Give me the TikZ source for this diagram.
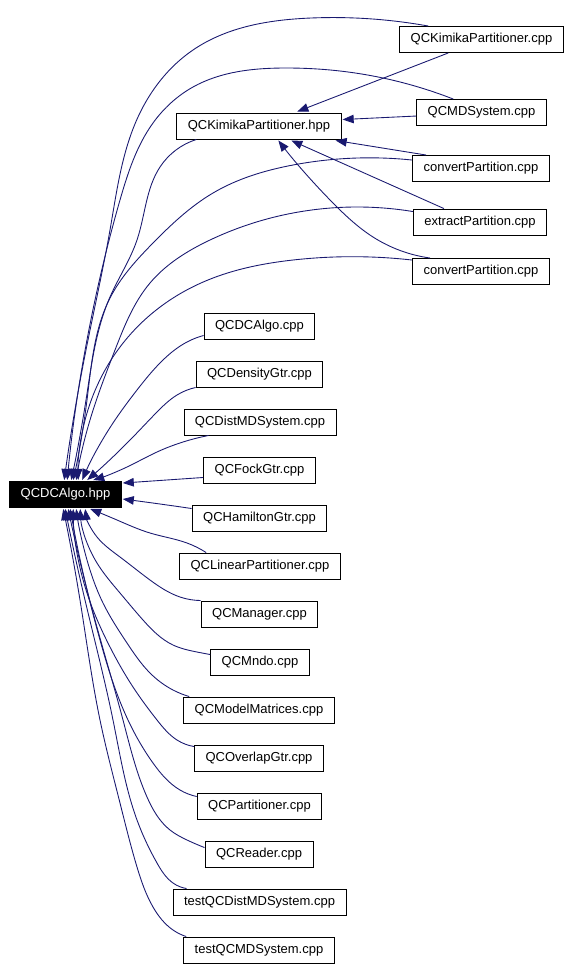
\documentclass[tikz,border=0pt]{standalone}
\usepackage{fontspec}
\setmainfont{Liberation Sans}
\usetikzlibrary{hobby,calc,arrows.meta}
\definecolor{depblue}{HTML}{191970}
\tikzset{
    file node/.style={
        draw=black,
        line width=0.55pt,
        fill=white,
        inner xsep=0.22cm,
        inner ysep=0pt,
        minimum height=0.52cm,
        font=\fontsize{7.4}{8}\selectfont
    },
    root node/.style={
        file node,
        fill=black,
        text=white
    },
    include edge/.style={
        depblue,
        line width=0.5pt,
        -{Triangle[length=0.22cm,width=0.17cm]}
    }
}

\begin{document}
\begin{tikzpicture}[x=0.02cm, y=-0.02cm, use Hobby shortcut]
                \useasboundingbox (0,0) rectangle (571,968);
                % files
                \node[root node] (algo) at (65.5,494.5) {QCDCAlgo.hpp};
                \node[file node] (kphpp) at (259,126) {QCKimikaPartitioner.hpp};
                \node[file node] (kpcpp) at (481.5,39.5) {QCKimikaPartitioner.cpp};
                \node[file node] (mdsys) at (481.5,112.5) {QCMDSystem.cpp};
                \node[file node] (convA) at (481,168.5) {convertPartition.cpp};
                \node[file node] (extract) at (480,222) {extractPartition.cpp};
                \node[file node] (convB) at (481,271.5) {convertPartition.cpp};
                \node[file node] (dccpp) at (259.5,326) {QCDCAlgo.cpp};
                \node[file node] (density) at (259.5,374) {QCDensityGtr.cpp};
                \node[file node] (distmd) at (260,422) {QCDistMDSystem.cpp};
                \node[file node] (fock) at (259.5,470) {QCFockGtr.cpp};
                \node[file node] (hamilton) at (259.5,518) {QCHamiltonGtr.cpp};
                \node[file node] (linear) at (260,566) {QCLinearPartitioner.cpp};
                \node[file node] (manager) at (259.5,614) {QCManager.cpp};
                \node[file node] (mndo) at (260,662) {QCMndo.cpp};
                \node[file node] (model) at (259,710) {QCModelMatrices.cpp};
                \node[file node] (overlap) at (259,758) {QCOverlapGtr.cpp};
                \node[file node] (partitioner) at (259.5,806) {QCPartitioner.cpp};
                \node[file node] (reader) at (259,854) {QCReader.cpp};
                \node[file node] (testdist) at (259.5,902) {testQCDistMDSystem.cpp};
                \node[file node] (testmd) at (259,950) {testQCMDSystem.cpp};
                % includes of QCKimikaPartitioner.hpp
                \draw[include edge] ($(kpcpp.south west)+(49,0)$) -- ($(kphpp.north west)+(121,-1)$);
                \draw[include edge] ($(mdsys.north west)+(0,17)$) -- ($(kphpp.north east)+(1,7)$);
                \draw[include edge] ($(convA.north west)+(14,0)$) -- ($(kphpp.south east)+(-6,1)$);
                \draw[include edge] ($(extract.north west)+(31,0)$) -- ($(kphpp.south west)+(115,1)$);
                \draw[include edge] ($(convB.north west)+(18,0)$) .. (373,237) .. (333,203) .. ($(kphpp.south west)+(102,1)$);
                % includes of QCDCAlgo.hpp, upper part
                \draw[include edge] ($(kpcpp.north west)+(29,0)$) .. (311,18) .. (193,50) .. (138,117) .. (110,230) .. (86,350) .. ($(algo.north west)+(55,-1)$);
                \draw[include edge] ($(mdsys.north west)+(37,0)$) .. (340,71) .. (286,68) .. (193,87) .. (153,123) .. (120,200) .. (95,300) .. ($(algo.north west)+(58,-1)$);
                \draw[include edge] ($(kphpp.south west)+(20,0)$) .. (160,167) .. (137,240) .. (110,297) .. (86,400) .. ($(algo.north west)+(62,-1)$);
                \draw[include edge] ($(convA.north west)+(0,5)$) .. (293,165) .. (213,193) .. (153,243) .. (110,298) .. (87,400) .. ($(algo.north west)+(64,-1)$);
                \draw[include edge] ($(extract.north west)+(0,3)$) .. (293,213) .. (210,240) .. (150,283) .. (115,350) .. (90,420) .. ($(algo.north west)+(67,-1)$);
                \draw[include edge] ($(convB.north west)+(0,2)$) .. (293,260) .. (213,278) .. (170,300) .. (120,347) .. (87,413) .. ($(algo.north west)+(69,-1)$);
                \draw[include edge] ($(dccpp.south west)+(0,-4)$) .. (187,342) .. (163,360) .. (137,390) .. (113,423) .. ($(algo.north west)+(73,-1)$);
                \draw[include edge] (density.south west) .. (177,395) .. (157,412) .. (133,437) .. ($(algo.north west)+(78,-1)$);
                \draw[include edge] ($(distmd.south west)+(25,0)$) .. (183,442) .. (157,452) .. (127,467) .. ($(algo.north west)+(84,-1)$);
                \draw[include edge] ($(fock.south west)+(0,-6)$) -- ($(algo.north east)+(1,2)$);
                \draw[include edge] ($(hamilton.north west)+(0,4)$) .. (160,504) .. ($(algo.north east)+(1,18)$);
                % includes of QCDCAlgo.hpp, lower part
                \draw[include edge] ($(linear.north west)+(27,0)$) .. (187,543) .. (150,533) .. (117,520) .. ($(algo.south west)+(81,1)$);
                \draw[include edge] (manager.north west) .. (180,597) .. (150,580) .. (120,557) .. (97,537) .. ($(algo.south west)+(76,1)$);
                \draw[include edge] ($(mndo.north west)+(0,6)$) .. (197,652) .. (173,645) .. (143,620) .. (120,593) .. (97,563) .. ($(algo.south west)+(71,1)$);
                \draw[include edge] ($(model.north west)+(6,0)$) .. (173,690) .. (150,673) .. (127,643) .. (103,603) .. (87,560) .. ($(algo.south west)+(67,1)$);
                \draw[include edge] ($(overlap.north west)+(0,2)$) .. (177,740) .. (157,720) .. (133,687) .. (110,647) .. (87,593) .. ($(algo.south west)+(64,1)$);
                \draw[include edge] ($(partitioner.north west)+(0,4)$) .. (180,790) .. (153,763) .. (128,720) .. (100,640) .. ($(algo.south west)+(61,1)$);
                \draw[include edge] ($(reader.north west)+(0,7)$) .. (187,840) .. (170,830) .. (147,797) .. (123,720) .. (95,620) .. ($(algo.south west)+(59,1)$);
                \draw[include edge] ($(testdist.north west)+(14,0)$) .. (173,883) .. (157,863) .. (137,820) .. (113,720) .. (85,600) .. ($(algo.south west)+(56,1)$);
                \draw[include edge] ($(testmd.north west)+(3,0)$) .. (173,930) .. (153,907) .. (137,867) .. (120,803) .. (100,720) .. (80,600) .. ($(algo.south west)+(54,1)$);
            \end{tikzpicture}
\end{document}
